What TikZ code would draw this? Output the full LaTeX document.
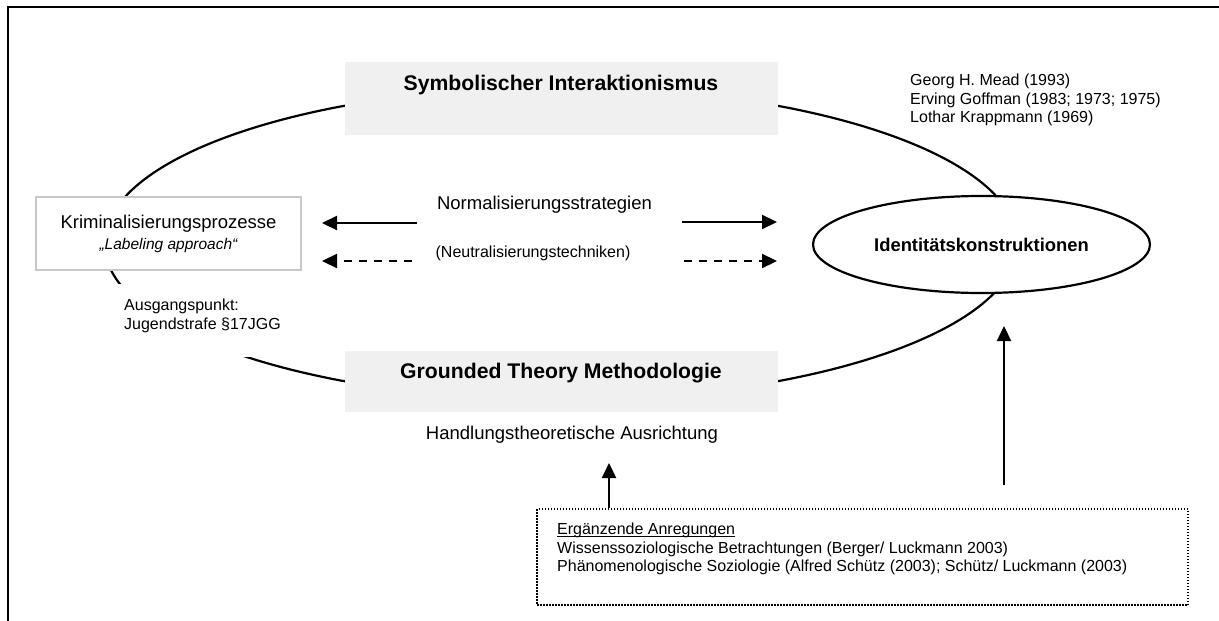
\documentclass[tikz,border=0pt]{standalone}
\usepackage{fontspec}
\setmainfont{Liberation Sans}
\usetikzlibrary{shapes.geometric,arrows.meta}
\definecolor{boxgray}{HTML}{F0F0F0}
\definecolor{framegray}{HTML}{C8C8C8}
% underline that sits just below the baseline
\newcommand\ulbase[1]{\setbox0\hbox{#1}\rlap{\rule[-2.4pt]{\wd0}{1.3pt}}\box0}

\begin{document}
\begin{tikzpicture}[x=1pt,y=-1pt,
  headbox/.style={fill=boxgray, draw=none, inner sep=0pt, minimum width=433pt},
  headtext/.style={inner sep=0pt, font=\fontsize{21.2}{25}\selectfont\bfseries},
  body/.style={inner sep=0pt, font=\fontsize{18.5}{22}\selectfont},
  small/.style={inner sep=0pt, font=\fontsize{16}{18.5}\selectfont, align=left},
  conn/.style={line width=2.2pt, -{Triangle[length=15pt,width=14pt]}},
  dashedconn/.style={conn, dash pattern=on 8pt off 7pt},
]
\useasboundingbox (0,0) rectangle (1219,621);

% outer frame (only top and left edges fall inside the page)
\draw[line width=2.8pt] (8,621) -- (8,7) -- (1219,7);

% the ring joining the four fields
\draw[line width=2.2pt] (561,243.5) ellipse [x radius=456.6, y radius=156.4];

% theory boxes on the ring
\node[headbox, minimum height=73pt] (symbox) at (561.5,98.5) {};
\node[headtext] (symb) at (561,85) {Symbolischer Interaktionismus};
\node[headbox, minimum height=61pt] (gtmbox) at (561.5,381.5) {};
\node[headtext] (gtm) at (561,373) {Grounded Theory Methodologie};

% starting point on the left
\node[draw=framegray, line width=1.5pt, fill=white, minimum width=265pt,
      minimum height=73pt, inner sep=0pt, align=center, body] (krim) at (168.5,233.5)
  {Kriminalisierungsprozesse\\[-1pt]{\fontsize{15.5}{18}\selectfont\itshape „Labeling approach“}};

\node[fill=white, minimum width=173pt, minimum height=73pt, inner sep=0pt] (ausgbg) at (203.5,320.5) {};
\node[small, anchor=west] (ausg) at (124,316) {Ausgangspunkt:\\Jugendstrafe §17JGG};

% identity constructions on the right
\node[ellipse, draw, line width=2.2pt, fill=white, minimum width=337pt, minimum height=97pt,
      inner sep=0pt, font=\fontsize{18.4}{22}\selectfont\bfseries] (ident) at (981.5,244.5)
  {Identitätskonstruktionen};

\node[small, anchor=west] (lit) at (910,100)
  {Georg H. Mead (1993)\\Erving Goffman (1983; 1973; 1975)\\Lothar Krappmann (1969)};

% strategies between both sides
\node[body] (norm) at (544.5,205) {Normalisierungsstrategien};
\node[small] (neutr) at (533,253) {(Neutralisierungstechniken)};

\coordinate (nwL) at (417,223);
\coordinate (nwLtip) at (322,223);
\coordinate (nwR) at (682,222);
\coordinate (nwRtip) at (777,222);
\coordinate (ntL) at (412,261);
\coordinate (ntLtip) at (322,261);
\coordinate (ntR) at (684,261);
\coordinate (ntRtip) at (777,261);
\draw[conn] (nwL) -- (nwLtip);
\draw[conn] (nwR) -- (nwRtip);
\draw[dashedconn] (ntL) -- (ntLtip);
\draw[dashedconn] (ntR) -- (ntRtip);

% action-theoretical orientation
\node[body] (handl) at (572,435) {Handlungstheoretische Ausrichtung};

% supplementary impulses
\node[draw, line width=1.5pt, dash pattern=on 1.5pt off 1.5pt, minimum width=651pt,
      minimum height=96pt, inner sep=0pt] (anreg) at (862.5,557) {};
\node[small, anchor=west] (anregtext) at (557,549)
  {\ulbase{Ergänzende Anregungen}\\
   Wissenssoziologische Betrachtungen (Berger/ Luckmann 2003)\\
   Phänomenologische Soziologie (Alfred Schütz (2003); Schütz/ Luckmann (2003)};

\coordinate (upA) at (609,463);
\draw[conn] (anreg.north -| upA) -- (upA);
\coordinate (upBtip) at (1004,326);
\coordinate (upBfoot) at (1004,485);
\draw[conn] (upBfoot) -- (upBtip);
\end{tikzpicture}
\end{document}
